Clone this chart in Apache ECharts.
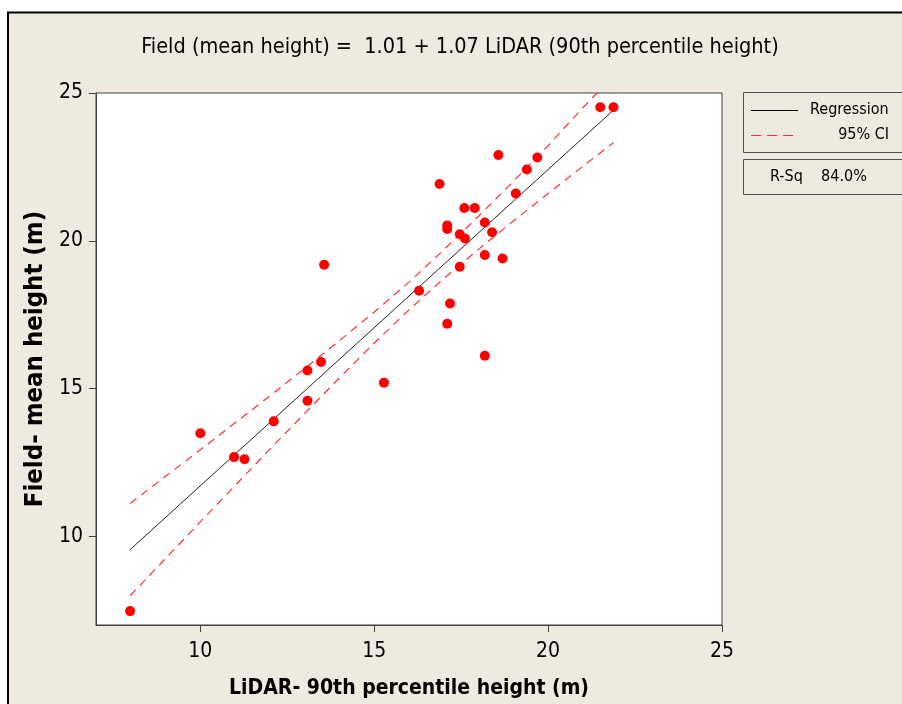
<!DOCTYPE html>
<html>
<head>
<meta charset="utf-8">
<script src="https://cdn.jsdelivr.net/npm/echarts@6/dist/echarts.min.js"></script>
<style>
  html, body { margin: 0; padding: 0; background: #ffffff; }
  #chart { width: 902px; height: 704px; }
</style>
</head>
<body>
<div id="chart"></div>
<script>
// LiDAR 90th percentile height vs field mean height (m)
const lidar = [21.50, 21.88, 18.57, 19.69, 19.39, 16.88, 19.07, 17.59, 17.89, 18.18,
               17.10, 17.10, 18.39, 17.46, 17.61, 13.56, 18.18, 18.69, 17.46, 16.29,
               17.18, 17.10, 18.18, 13.47, 13.08, 15.28, 13.08, 12.11, 10.00, 10.97,
               11.27, 7.98];
const field = [24.52, 24.52, 22.90, 22.82, 22.41, 21.92, 21.60, 21.11, 21.11, 20.62,
               20.52, 20.40, 20.29, 20.22, 20.08, 19.19, 19.52, 19.40, 19.12, 18.31,
               17.88, 17.19, 16.11, 15.90, 15.61, 15.20, 14.59, 13.89, 13.49, 12.68,
               12.61, 7.47];

// Fitted line coefficients (from the equation in the title)
const intercept = 1.01;
const slope = 1.07;
const fitRange = [7.98, 21.88];

// 95% confidence band for the mean
const ciX     = [7.98, 9, 10, 11, 12, 13, 14, 15, 16, 17, 18, 19, 20, 21, 21.88];
const ciUpper = [11.11, 12.03, 12.93, 13.84, 14.75, 15.68, 16.62, 17.59, 18.60, 19.69,
                 20.83, 22.01, 23.22, 24.50, 25.58];
const ciLower = [7.99, 9.25, 10.49, 11.72, 12.95, 14.16, 15.36, 16.54, 17.66, 18.72,
                 19.71, 20.67, 21.60, 22.52, 23.32];

const xTicks = [10, 15, 20, 25];
const yTicks = [10, 15, 20, 25];

const titleText = 'Field (mean height) =  1.01 + 1.07 LiDAR (90th percentile height)';
const xName = 'LiDAR- 90th percentile height (m)';
const yName = 'Field- mean height (m)';
const rSq = 'R-Sq    84.0%';

const FONT = '"DejaVu Sans Condensed", "DejaVu Sans", sans-serif';
const BG = '#eeeae0';
const CI_RED = '#ff3030';

const points = lidar.map((x, i) => [x, field[i]]);
const fitLine = fitRange.map(x => [x, intercept + slope * x]);
const upperBand = ciX.map((x, i) => [x, ciUpper[i]]);
const lowerBand = ciX.map((x, i) => [x, ciLower[i]]);

const chart = echarts.init(document.getElementById('chart'), null, { renderer: 'canvas' });

const axisCommon = {
  type: 'value',
  min: 7,
  max: 25,
  splitLine: { show: false },
  axisLine: { show: true, onZero: false, lineStyle: { color: '#404040', width: 1 } },
  nameLocation: 'middle'
};

chart.setOption({
  animation: false,
  backgroundColor: '#ffffff',
  graphic: [
    { type: 'rect', z: -10, silent: true,
      shape: { x: 8, y: 12.5, width: 1000, height: 1000 },
      style: { fill: BG, stroke: '#000', lineWidth: 2 } },
    { type: 'text', x: 460, y: 47,
      style: { text: titleText, font: '21.5px ' + FONT, fill: '#000',
               align: 'center', verticalAlign: 'middle' } },
    // legend box
    { type: 'rect', shape: { x: 743.5, y: 92.5, width: 170, height: 60 },
      style: { fill: BG, stroke: '#505050', lineWidth: 1 } },
    { type: 'line', shape: { x1: 751, y1: 110.5, x2: 798, y2: 110.5 },
      style: { stroke: '#000', lineWidth: 1 } },
    { type: 'text', x: 810, y: 110,
      style: { text: 'Regression', font: '16px ' + FONT, fill: '#000', verticalAlign: 'middle' } },
    { type: 'line', shape: { x1: 751, y1: 135.5, x2: 798, y2: 135.5 },
      style: { stroke: CI_RED, lineWidth: 1, lineDash: [10, 6] } },
    { type: 'text', x: 889, y: 135,
      style: { text: '95% CI', font: '16px ' + FONT, fill: '#000', align: 'right', verticalAlign: 'middle' } },
    { type: 'rect', shape: { x: 743.5, y: 159.5, width: 170, height: 35 },
      style: { fill: BG, stroke: '#505050', lineWidth: 1 } },
    { type: 'text', x: 770, y: 177,
      style: { text: rSq, font: '16px ' + FONT, fill: '#000', verticalAlign: 'middle' } }
  ],
  grid: {
    left: 96, top: 93, width: 626, height: 532,
    show: true, backgroundColor: '#ffffff', borderColor: '#404040', borderWidth: 1
  },
  xAxis: Object.assign({}, axisCommon, {
    name: xName,
    nameGap: 53,
    nameTextStyle: { fontFamily: FONT, fontWeight: 'bold', fontSize: 21, color: '#000' },
    axisTick: { show: true, length: 7, customValues: xTicks, lineStyle: { color: '#404040' } },
    axisLabel: { customValues: xTicks, margin: 16, fontFamily: FONT, fontSize: 21, color: '#000' }
  }),
  yAxis: Object.assign({}, axisCommon, {
    name: yName,
    nameGap: 48,
    nameRotate: 90,
    nameTextStyle: { fontFamily: FONT, fontWeight: 'bold', fontSize: 25.5, color: '#000' },
    axisTick: { show: true, length: 7, customValues: yTicks, lineStyle: { color: '#404040' } },
    axisLabel: { customValues: yTicks, margin: 13, fontFamily: FONT, fontSize: 21, color: '#000' }
  }),
  series: [
    { type: 'line', data: fitLine, symbol: 'none', clip: true,
      lineStyle: { color: '#222', width: 1 }, z: 2 },
    { type: 'line', data: upperBand, symbol: 'none', clip: true,
      lineStyle: { color: CI_RED, width: 1.2, type: [8, 6] }, z: 2 },
    { type: 'line', data: lowerBand, symbol: 'none', clip: true,
      lineStyle: { color: CI_RED, width: 1.2, type: [8, 6] }, z: 2 },
    { type: 'scatter', data: points, symbol: 'circle', symbolSize: 10,
      itemStyle: { color: '#ff0000', opacity: 1 }, z: 3 }
  ]
});
</script>
</body>
</html>
